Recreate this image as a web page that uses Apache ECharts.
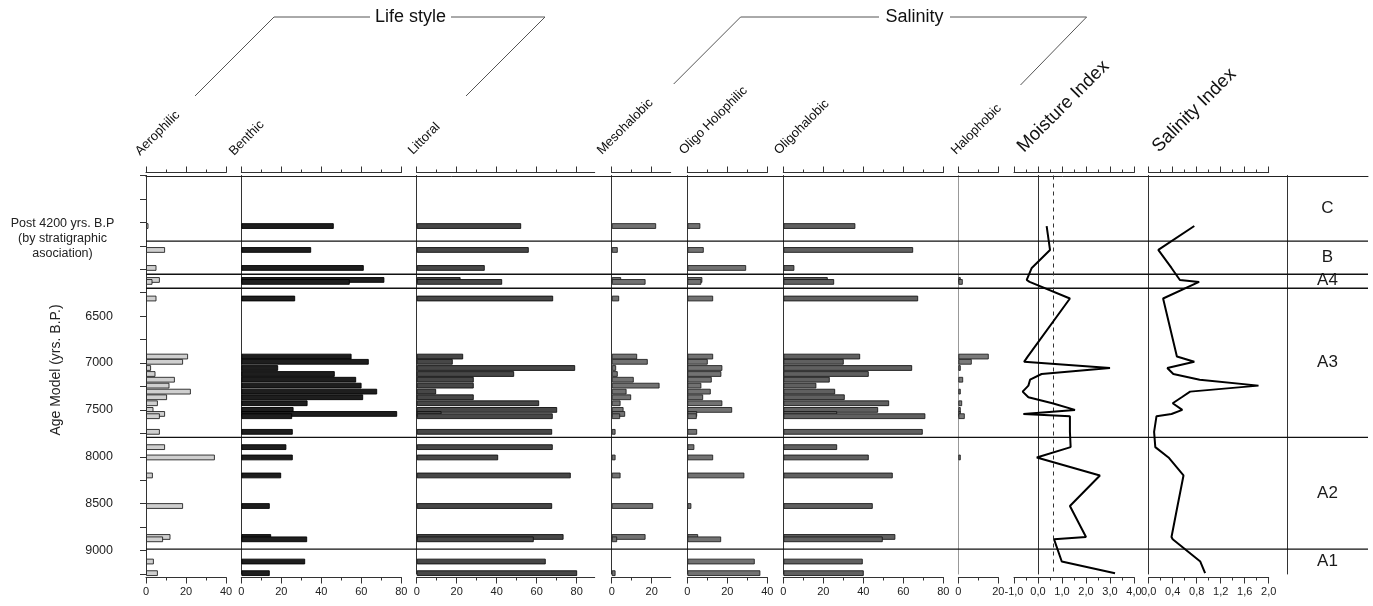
<!DOCTYPE html>
<html><head><meta charset="utf-8">
<script src="https://cdn.jsdelivr.net/npm/echarts@6/dist/echarts.min.js"></script>
<style>html,body{margin:0;padding:0;background:#fff}#c{width:1373px;height:606px}</style>
</head><body><div id="c"></div>
<script>
// ---- DATA ----
const ages = [5539,5794,5986,6114,6135,6312,
  6931,6987,7053,7117,7178,7241,7305,7365,7429,7500,7543,7567,7734,
  7897,8007,8199,8525,8855,8880,9117,9241];
const aerophilic = [1,9.3,5,6.7,3,5, 20.8,18.3,2.3,4.5,14.2,11.5,22.2,10.3,5.7,3.5,9.3,6.7,6.7, 9.3,34.2,3.2,18.3,12,8.3,3.7,5.7];
const benthic = [46,34.7,61,71.3,54,26.7, 54.9,63.5,18.2,46.5,57.2,59.9,67.7,60.7,32.9,25.9,77.7,25.2,25.5, 22.3,25.5,19.7,14,14.7,32.7,31.7,14];
const littoral = [52,55.8,33.8,21.7,42.5,68, 23,17.8,79,48.5,28.3,28.3,9.5,28.3,61,70,12.2,67.8,67.5, 67.8,40.5,76.8,67.5,73.2,58.3,64.3,80];
const mesohalobic = [22,2.8,0,4.5,16.7,3.5, 12.5,17.8,2,2.8,10.8,23.7,7.2,9.5,4.2,5.7,6.5,4,1.7, 0,1.7,4.2,20.5,16.7,2.5,0,1.7];
const oligoHolophilic = [6.3,8,29.2,7.3,6.8,12.7, 12.7,10,17.3,16.8,12,6.8,11.5,7.7,17.3,22.2,4.7,4.5,4.7, 3.3,12.7,28.3,1.8,5.2,16.7,33.5,36.3];
const oligohalobic = [35.8,64.7,5.3,22,25.2,67.2, 38.2,30,64.2,42.5,23,16.3,25.7,30.5,52.7,47.2,26.7,70.8,69.5, 26.7,42.5,54.5,44.5,55.8,49.5,39.5,40];
const halophobic = [0,0,0,1,2,0, 15,6.5,1,0,2.2,0,1,0,1.7,0.8,0.8,3,0, 0,0.8,0,0,0,0,0,0];
const moistureIndex = [0.36,0.5,-0.26,-0.47,-0.35,1.33, -0.43,-0.58,3.0,0.15,-0.33,-0.4,-0.64,-0.4,0.6,1.54,-0.61,1.33,1.33, 1.36,-0.05,2.58,1.33,2.0,0.67,0.99,3.21];
const salinityIndex = [0.76,0.16,0.38,0.52,0.84,0.24, 0.47,0.76,0.31,0.41,0.85,1.83,0.69,0.55,0.4,0.56,0.38,0.13,0.09, 0.11,0.33,0.58,0.48,0.38,0.4,0.86,0.94];
const moistureRef = 0.65;
const zoneBounds = [5690,6045,6195,7790,8985];
const zoneNames = ['C','B','A4','A3','A2','A1'];
const ageMin = 5000, ageMax = 9250, ageStep = 250;
const ageTickLabels = [6500,7000,7500,8000,8500,9000];
const postLabel = 'Post 4200 yrs. B.P\n(by stratigraphic\nasociation)';
const pct40Major=[0,20,40], pct40Minor=[10,30];
const pct80Major=[0,20,40,60,80], pct80Minor=[10,30,50,70];
const pct20Major=[0,20], pct20Minor=[10];
const moistMajor=[-1,0,1,2,3,4], moistMinor=[-0.5,0.5,1.5,2.5,3.5];
const salMajor=[0,0.4,0.8,1.2,1.6,2.0], salMinor=[0.2,0.6,1.0,1.4,1.8];

// ---- LAYOUT ----
const FONT = '"Liberation Sans", Arial, sans-serif';
const TOP = 175.5, H = 398.5;
const intFmt = v => String(Math.round(v));
const decFmt = v => v.toFixed(1).replace('.', ',');
const panels = [
  {title:'Aerophilic', vals:aerophilic, left:146, width:80, min:0, max:40, majors:pct40Major, minors:pct40Minor, fmt:intFmt, fill:'#cfcfcf', stroke:'#222', tx:142, ty:158, fs:13},
  {title:'Benthic', vals:benthic, left:241.3, width:160, min:0, max:80, majors:pct80Major, minors:pct80Minor, fmt:intFmt, fill:'#1e1e1e', stroke:'#000', tx:236, ty:158, fs:13},
  {title:'Littoral', vals:littoral, left:416.7, width:178, min:0, max:89, majors:pct80Major, minors:pct80Minor, fmt:intFmt, fill:'#474747', stroke:'#111', tx:415, ty:157, fs:13},
  {title:'Mesohalobic', vals:mesohalobic, left:611.7, width:59, min:0, max:29.5, majors:pct20Major, minors:pct20Minor, fmt:intFmt, fill:'#727272', stroke:'#222', tx:604, ty:157, fs:13},
  {title:'Oligo Holophilic', vals:oligoHolophilic, left:687.3, width:80, min:0, max:40, majors:pct40Major, minors:pct40Minor, fmt:intFmt, fill:'#727272', stroke:'#222', tx:686, ty:157, fs:13},
  {title:'Oligohalobic', vals:oligohalobic, left:783.3, width:160, min:0, max:80, majors:pct80Major, minors:pct80Minor, fmt:intFmt, fill:'#606060', stroke:'#1a1a1a', tx:781, ty:157, fs:13},
  {title:'Halophobic', vals:halophobic, left:958.3, width:40, min:0, max:20, majors:pct20Major, minors:pct20Minor, fmt:intFmt, fill:'#7a7a7a', stroke:'#222', tx:958, ty:157, fs:13, axisColor:'#999'},
  {title:'Moisture Index', vals:moistureIndex, left:1014, width:120, min:-1, max:4, majors:moistMajor, minors:moistMinor, fmt:decFmt, line:true, tx:1027, ty:156, fs:18.5},
  {title:'Salinity Index', vals:salinityIndex, left:1148.7, width:120, min:0, max:2, majors:salMajor, minors:salMinor, fmt:decFmt, line:true, tx:1162, ty:156, fs:18.5}
];

function barRenderer(fill, stroke){
  return function(params, api){
    const v = api.value(0), a = api.value(1);
    const p0 = api.coord([0, a]), p1 = api.coord([v, a]);
    const h = 4.8;
    return {type:'rect', shape:{x:p0[0]+0.5, y:p0[1]-h/2, width:Math.max(p1[0]-p0[0]-0.5, 1.5), height:h},
      style:{fill:fill, stroke:stroke, lineWidth:0.9}};
  };
}

const grids=[], xAxes=[], yAxes=[], series=[], graphics=[];
panels.forEach((p,i)=>{
  grids.push({left:p.left, top:TOP, width:p.width, height:H});
  yAxes.push({gridIndex:i, type:'value', min:ageMin, max:ageMax, inverse:true, position:'left',
    axisLine:{show:true, lineStyle:{color:p.axisColor||'#333', width:1}}, axisTick:{show:false}, axisLabel:{show:false}, splitLine:{show:false}});
  const all = p.majors.concat(p.minors).sort((a,b)=>a-b);
  const base = {gridIndex:i, type:'value', min:p.min, max:p.max, splitLine:{show:false}};
  const xi = xAxes.length;
  xAxes.push(Object.assign({}, base, {position:'bottom', offset:3.5, axisLine:{show:true, lineStyle:{color:'#333'}},
    axisTick:{show:true, customValues:all, length:3, lineStyle:{color:'#333'}},
    axisLabel:{show:true, customValues:p.majors, formatter:p.fmt, fontSize:11, color:'#222', margin:9, fontFamily:FONT}}));
  xAxes.push(Object.assign({}, base, {position:'bottom', offset:3.5, axisLine:{show:false},
    axisTick:{show:true, customValues:p.majors, length:6, lineStyle:{color:'#333'}}, axisLabel:{show:false}}));
  xAxes.push(Object.assign({}, base, {position:'top', offset:3, axisLine:{show:true, lineStyle:{color:'#333'}},
    axisTick:{show:true, customValues:all, length:3, lineStyle:{color:'#333'}}, axisLabel:{show:false}}));
  xAxes.push(Object.assign({}, base, {position:'top', offset:3, axisLine:{show:false},
    axisTick:{show:true, customValues:p.majors, length:6, lineStyle:{color:'#333'}}, axisLabel:{show:false}}));
  const pts = ages.map((a,k)=>[p.vals[k], a]);
  if (p.line) {
    const s = {type:'line', xAxisIndex:xi, yAxisIndex:i, data:pts, symbol:'none', showSymbol:false,
      lineStyle:{color:'#000', width:2}, silent:true, z:5};
    if (p.title === 'Moisture Index') {
      s.markLine = {silent:true, symbol:'none', label:{show:false}, lineStyle:{type:[4,4], color:'#333', width:1},
        data:[{xAxis:moistureRef}]};
    }
    series.push(s);
  } else {
    series.push({type:'custom', xAxisIndex:xi, yAxisIndex:i, data:pts.filter(d=>d[0]>0), encode:{x:0,y:1},
      renderItem:barRenderer(p.fill, p.stroke), silent:true, z:3});
  }
  graphics.push({type:'text', x:p.tx, y:p.ty, rotation:Math.PI/4,
    style:{text:p.title, x:0, y:0, textAlign:'left', textVerticalAlign:'bottom', fill:'#111', font:p.fs+'px '+FONT}});
});

// zone grid
const zg = grids.length;
grids.push({left:1287, top:TOP, width:81, height:H});
yAxes.push({gridIndex:zg, type:'value', min:ageMin, max:ageMax, inverse:true, position:'left',
  axisLine:{show:true, lineStyle:{color:'#333'}}, axisTick:{show:false}, axisLabel:{show:false}, splitLine:{show:false}});
const zxi = xAxes.length;
xAxes.push({gridIndex:zg, type:'value', min:0, max:1, show:false});
const edges = [ageMin].concat(zoneBounds, [ageMax]);
series.push({type:'custom', xAxisIndex:zxi, yAxisIndex:zg,
  data:zoneNames.map((n,k)=>({name:n, value:[0.5, (edges[k]+edges[k+1])/2]})), encode:{x:0,y:1},
  renderItem:function(params, api){
    const c = api.coord([api.value(0), api.value(1)]);
    return {type:'text', x:c[0], y:c[1], style:{text:zoneNames[params.dataIndex], textAlign:'center', textVerticalAlign:'middle',
      fill:'#1a1a1a', font:'17px '+FONT}};
  }, silent:true});

// overlay grid (zone boundaries + top border)
const og = grids.length;
grids.push({left:146, top:TOP+1, width:1222, height:H-1});
yAxes.push({gridIndex:og, type:'value', min:ageMin, max:ageMax, inverse:true, show:false});
const oxi = xAxes.length;
xAxes.push({gridIndex:og, type:'value', min:0, max:1, position:'top', axisLine:{show:true, lineStyle:{color:'#222', width:1}},
  axisTick:{show:false}, axisLabel:{show:false}, splitLine:{show:false}});
series.push({type:'custom', xAxisIndex:oxi, yAxisIndex:og, data:zoneBounds.map(b=>[0,b]), encode:{x:0,y:1},
  renderItem:function(params, api){
    const b = api.value(1);
    const p0 = api.coord([0,b]), p1 = api.coord([1,b]);
    return {type:'line', shape:{x1:p0[0], y1:p0[1], x2:p1[0], y2:p1[1]}, style:{stroke:'#111', lineWidth:1.3}};
  }, silent:true, z:4});

// labelled age axis on first grid
yAxes.push({gridIndex:0, type:'value', min:ageMin, max:ageMax, interval:ageStep, inverse:true, position:'left', offset:20,
  axisLine:{show:true, lineStyle:{color:'#333'}}, axisTick:{show:true, length:6, lineStyle:{color:'#333'}},
  axisLabel:{show:true, formatter:v=>ageTickLabels.includes(v)?String(v):'', fontSize:12.5, color:'#222', margin:13, fontFamily:FONT},
  splitLine:{show:false}});

// other texts
graphics.push({type:'text', x:62.5, y:224, style:{text:postLabel, x:0, y:15, textAlign:'center', textVerticalAlign:'middle', fill:'#222',
  font:'12.5px '+FONT, lineHeight:15}});
graphics.push({type:'text', x:56, y:370, rotation:Math.PI/2,
  style:{text:'Age Model (yrs. B.P.)', x:0, y:0, textAlign:'center', textVerticalAlign:'middle', fill:'#222', font:'14px '+FONT}});
const bracketStyle = {stroke:'#555', lineWidth:1, fill:null};
graphics.push({type:'polyline', shape:{points:[[195,96],[274,17],[370,17]]}, style:bracketStyle});
graphics.push({type:'polyline', shape:{points:[[451,17],[545,17],[466,96]]}, style:bracketStyle});
graphics.push({type:'text', x:410.5, y:17, style:{text:'Life style', textAlign:'center', textVerticalAlign:'middle', fill:'#111', font:'18px '+FONT}});
graphics.push({type:'polyline', shape:{points:[[673.7,84],[740.6,17],[879,17]]}, style:bracketStyle});
graphics.push({type:'polyline', shape:{points:[[950,17],[1086.6,17],[1020.5,85]]}, style:bracketStyle});
graphics.push({type:'text', x:914.5, y:17, style:{text:'Salinity', textAlign:'center', textVerticalAlign:'middle', fill:'#111', font:'18px '+FONT}});

const chart = echarts.init(document.getElementById('c'), null, {renderer:'canvas'});
chart.setOption({
  animation:false,
  backgroundColor:'#fff',
  textStyle:{fontFamily:FONT},
  grid:grids, xAxis:xAxes, yAxis:yAxes, series:series, graphic:graphics
});
</script></body></html>
